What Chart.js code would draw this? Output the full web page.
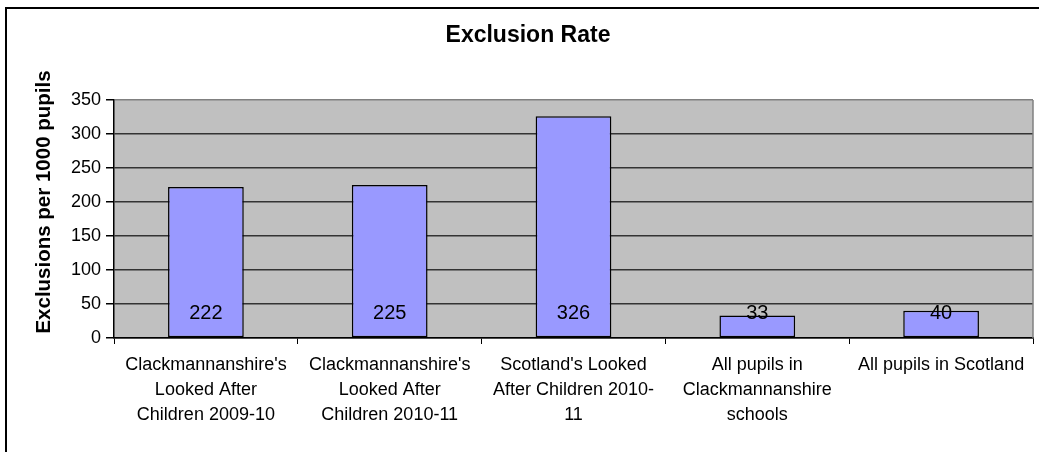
<!DOCTYPE html>
<html>
<head>
<meta charset="utf-8">
<script src="https://cdn.jsdelivr.net/npm/chart.js@4.4.0/dist/chart.umd.min.js"></script>
<style>
    html, body { margin: 0; padding: 0; background: #fff; overflow: hidden; }
    #wrap { position: relative; width: 1039px; height: 452px; overflow: hidden; }
    #frame { position: absolute; left: 5px; top: 7px; width: 1100px; height: 500px;
             border-left: 2px solid #000; border-top: 2px solid #000; pointer-events: none; }
    canvas { position: absolute; left: 0; top: 0; }
</style>
</head>
<body>
<div id="wrap">
    <div id="frame"></div>
    <canvas id="chart" width="1053" height="452"></canvas>
</div>
<script>
// 数据
const categories = [
    ["Clackmannanshire's", "Looked After", "Children 2009-10"],
    ["Clackmannanshire's", "Looked After", "Children 2010-11"],
    ["Scotland's Looked", "After Children 2010-", "11"],
    ["All pupils in", "Clackmannanshire", "schools"],
    ["All pupils in Scotland"]
];
const exclusionRates = [222, 225, 326, 33, 40];
const yTicks = [0, 50, 100, 150, 200, 250, 300, 350];

const chartTitle = 'Exclusion Rate';
const yTitle = 'Exclusions per 1000 pupils';
const FONT = '"Liberation Sans", Arial, sans-serif';

// 绘图区背景、右边框、Y轴标题和数值标签
const plotDecor = {
    id: 'plotDecor',
    beforeDraw(chart) {
        const { ctx, chartArea: a } = chart;
        ctx.save();
        ctx.fillStyle = '#C0C0C0';
        ctx.fillRect(a.left, a.top, a.right - a.left, a.bottom - a.top);
        ctx.restore();
    },
    afterDatasetsDraw(chart) {
        const { ctx, chartArea: a } = chart;
        const y0 = chart.scales.y.getPixelForValue(0);
        ctx.save();
        // 右边框
        ctx.strokeStyle = '#808080';
        ctx.lineWidth = 1.5;
        ctx.beginPath();
        ctx.moveTo(a.right, a.top);
        ctx.lineTo(a.right, a.bottom);
        ctx.stroke();
        // 数值标签
        ctx.fillStyle = '#000';
        ctx.font = '20px ' + FONT;
        ctx.textAlign = 'center';
        ctx.textBaseline = 'middle';
        chart.getDatasetMeta(0).data.forEach((bar, i) => {
            ctx.fillText(String(exclusionRates[i]), bar.x, y0 - 25);
        });
        // Y轴标题
        ctx.font = 'bold 20.5px ' + FONT;
        ctx.translate(44, 202);
        ctx.rotate(-Math.PI / 2);
        ctx.fillText(yTitle, 0, 0);
        ctx.restore();
    }
};

const ctx = document.getElementById('chart').getContext('2d');
new Chart(ctx, {
    type: 'bar',
    data: {
        labels: categories,
        datasets: [{
            label: chartTitle,
            data: exclusionRates,
            backgroundColor: '#9999FF',
            borderColor: '#000000',
            borderWidth: 1.5,
            borderSkipped: false,
            barPercentage: 0.412,
            categoryPercentage: 1.0
        }]
    },
    options: {
        responsive: false,
        animation: false,
        layout: { padding: { left: 23, right: 20, top: 0, bottom: 0 } },
        plugins: {
            legend: { display: false },
            tooltip: { enabled: false },
            title: {
                display: true,
                text: chartTitle,
                color: '#000',
                font: { family: FONT, size: 23, weight: 'bold', lineHeight: 1.2 },
                padding: { top: 22, bottom: 50.4 }
            }
        },
        scales: {
            x: {
                afterFit(scale) { scale.height = 114; },
                grid: {
                    offset: true,
                    drawOnChartArea: false,
                    drawTicks: true,
                    tickLength: 6,
                    color: '#000'
                },
                border: { display: true, color: '#000', width: 1.5 },
                ticks: {
                    autoSkip: false,
                    maxRotation: 0,
                    minRotation: 0,
                    padding: 9,
                    color: '#000',
                    font: { family: FONT, size: 18, lineHeight: '25px' }
                }
            },
            y: {
                min: 0,
                max: 350,
                afterFit(scale) { scale.width = 91; },
                afterBuildTicks(scale) { scale.ticks = yTicks.map(v => ({ value: v })); },
                grid: {
                    color: (c) => (c.tick && c.tick.value === 350) ? '#808080' : '#333333',
                    lineWidth: 1.5,
                    tickColor: '#000',
                    tickLength: 8,
                    drawTicks: true
                },
                border: { display: true, color: '#000', width: 1.5 },
                ticks: {
                    padding: 5,
                    color: '#000',
                    font: { family: FONT, size: 18 }
                }
            }
        }
    },
    plugins: [plotDecor]
});
</script>
</body>
</html>
